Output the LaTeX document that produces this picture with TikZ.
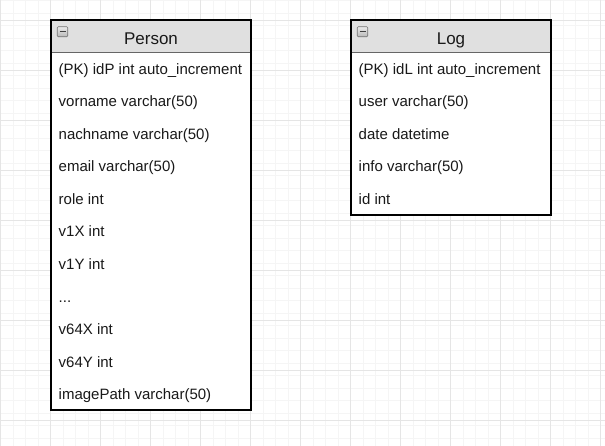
\documentclass[tikz,border=0pt]{standalone}
\usepackage{fontspec}
\setmainfont{Liberation Sans}
\newcommand\mydotsrow{...}
\begin{document}
\begin{tikzpicture}[x=1pt,y=-1pt,
  minorgrid/.style={draw=black!4,line width=0.8pt},
  majorgrid/.style={draw=black!10,line width=0.8pt},
  tablebox/.style={draw=black,line width=1.3pt},
  headfill/.style={fill=black!12},
  rowtext/.style={anchor=base west,inner sep=0pt,font=\fontsize{15}{15}\selectfont,text=black!90},
  titletext/.style={anchor=base,inner sep=0pt,font=\fontsize{17}{17}\selectfont,text=black!90},
  iconbox/.style={draw=black!55,line width=0.6pt,top color=black!8,bottom color=black!28,rounded corners=1pt,minimum width=10.5pt,minimum height=10pt,inner sep=0pt}
]
\useasboundingbox (0,0) rectangle (605,446);
\fill[white] (0,0) rectangle (605,446);
% grid
\foreach \i in {0,...,48} {\draw[minorgrid] ({0.7+12.5*\i},0) -- ({0.7+12.5*\i},446);}
\foreach \i in {0,...,35} {\draw[minorgrid] (0,{0.7+12.5*\i}) -- (605,{0.7+12.5*\i});}
\foreach \i in {0,...,12} {\draw[majorgrid] ({0.7+50*\i},0) -- ({0.7+50*\i},446);}
\foreach \i in {0,...,8} {\draw[majorgrid] (0,{20.7+50*\i}) -- (605,{20.7+50*\i});}
% Person table
\fill[white] (51,20) rectangle (251,410);
\fill[headfill] (51,20) rectangle (251,52.5);
\draw[black!60,line width=1.2pt] (51,52.5) -- (251,52.5);
\draw[tablebox] (51,20) rectangle (251,410);
\node[iconbox] (picon) at (62.5,31.8) {};
\draw[black!75,line width=1pt] ([xshift=-3pt]picon.center) -- ([xshift=3pt]picon.center);
\node[titletext] (ptitle) at (151,44.5) {Person};
\foreach \t [count=\k from 0] in {(PK) idP int auto\_increment,vorname varchar(50),nachname varchar(50),email varchar(50),role int,v1X int,v1Y int,\mydotsrow,v64X int,v64Y int,imagePath varchar(50)} {
  \node[rowtext] (prow\k) at (58.5,{74.5+32.5*\k}) {\t};
}
% Log table
\fill[white] (351,20) rectangle (551,215);
\fill[headfill] (351,20) rectangle (551,52.5);
\draw[black!60,line width=1.2pt] (351,52.5) -- (551,52.5);
\draw[tablebox] (351,20) rectangle (551,215);
\node[iconbox] (licon) at (362.5,31.8) {};
\draw[black!75,line width=1pt] ([xshift=-3pt]licon.center) -- ([xshift=3pt]licon.center);
\node[titletext] (ltitle) at (451,44.5) {Log};
\foreach \t [count=\k from 0] in {(PK) idL int auto\_increment,user varchar(50),date datetime,info varchar(50),id int} {
  \node[rowtext] (lrow\k) at (358.5,{74.5+32.5*\k}) {\t};
}
\end{tikzpicture}
\end{document}
